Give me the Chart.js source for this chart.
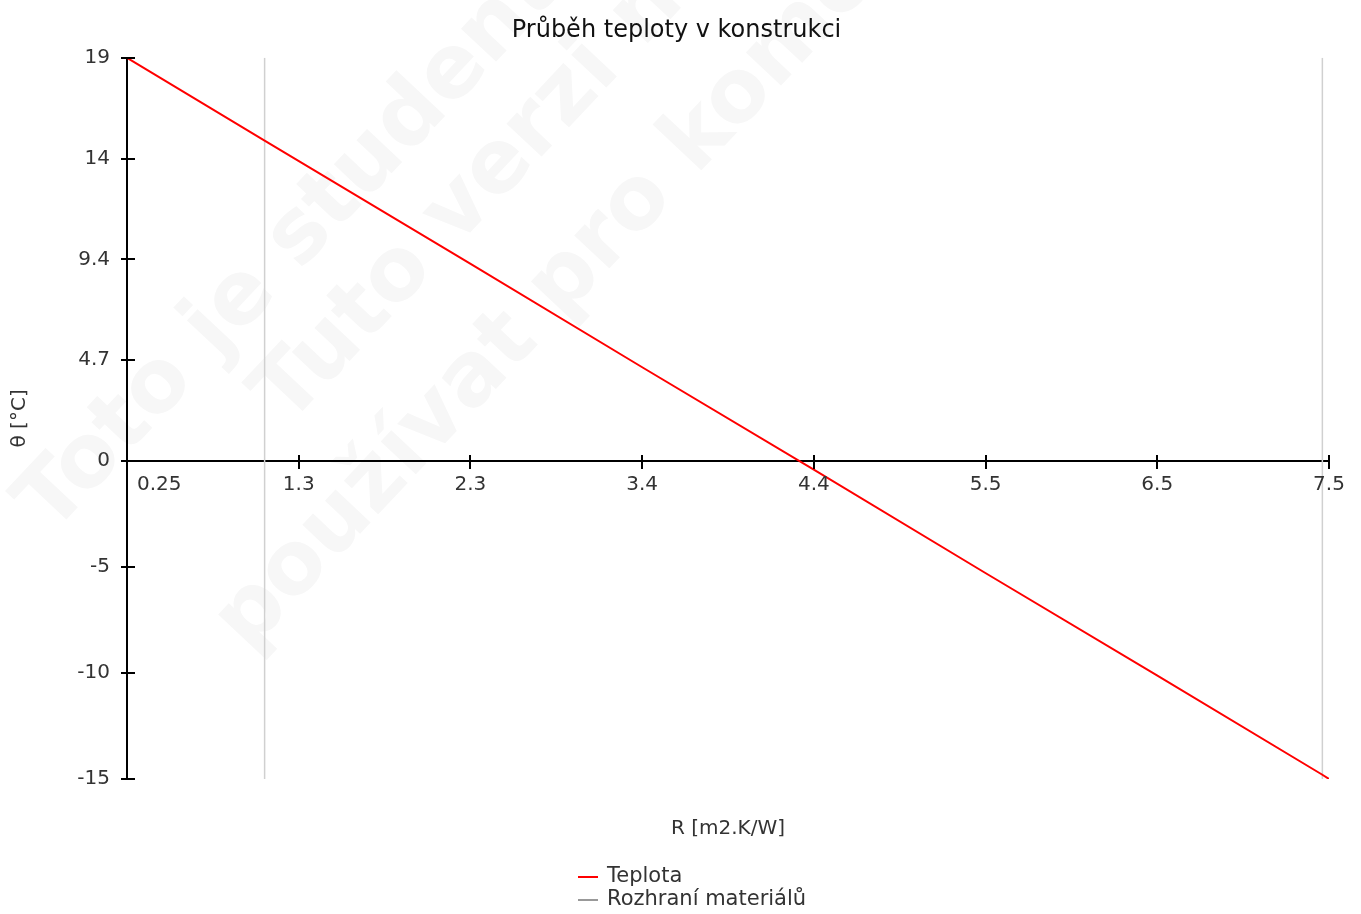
<!DOCTYPE html>
<html>
<head>
<meta charset="utf-8">
<script src="https://cdn.jsdelivr.net/npm/chart.js@4.4.1/dist/chart.umd.min.js"></script>
<style>
  html, body { margin: 0; padding: 0; background: #fff; }
  #wrap { width: 1361px; height: 914px; }
</style>
</head>
<body>
<div id="wrap"><canvas id="chart" width="1361" height="914"></canvas></div>
<script>
// temperature profile (R [m2.K/W] -> theta [°C])
const rValues = [0.25, 1.08, 2.32, 3.36, 4.39, 5.43, 6.46, 7.46, 7.5];
const tempValues = [19, 15.1, 9.3, 4.4, -0.4, -5.3, -10.1, -14.8, -15];

// material interfaces
const interfaceR = [1.08, 7.46];

const yTickValues = [-15, -10, -5, 0, 4.75, 9.5, 14.25, 19];
const yTickLabels = ['-15', '-10', '-5', '0', '4.7', '9.4', '14', '19'];
const xTickValues = [0.25, 1.286, 2.321, 3.357, 4.393, 5.429, 6.464, 7.5];
const xTickLabels = ['0.25', '1.3', '2.3', '3.4', '4.4', '5.5', '6.5', '7.5'];

const watermarkLines = ['Toto je studentská verze programu', 'Tuto verzi nelze', 'používat pro komerční účely'];

const FONT = "'DejaVu Sans', sans-serif";

const tempData = rValues.map((r, i) => ({ x: r, y: tempValues[i] }));
const interfaceData = [];
interfaceR.forEach((r, i) => {
    if (i > 0) interfaceData.push({ x: r, y: null });
    interfaceData.push({ x: r, y: -15 });
    interfaceData.push({ x: r, y: 19 });
});

const watermark = {
    id: 'watermark',
    beforeDraw(chart) {
        const ctx = chart.ctx;
        const spots = [[-355, 381], [-114, 479], [-306, 605]];
        ctx.save();
        ctx.rotate(-46.8 * Math.PI / 180);
        ctx.font = 'bold 88px ' + FONT;
        ctx.fillStyle = '#f7f7f7';
        ctx.textBaseline = 'middle';
        ctx.textAlign = 'left';
        watermarkLines.forEach((t, i) => ctx.fillText(t, spots[i][0], spots[i][1]));
        ctx.restore();
    }
};

// tick marks crossing the axis lines + x labels under the zero line
const crossTicks = {
    id: 'crossTicks',
    afterDraw(chart) {
        const ctx = chart.ctx;
        const xs = chart.scales.x, ys = chart.scales.y;
        const left = chart.chartArea.left;
        const y0 = Math.round(ys.getPixelForValue(0));
        ctx.save();
        ctx.strokeStyle = '#000';
        ctx.lineWidth = 2;
        ctx.beginPath();
        yTickValues.forEach(v => {
            const p = Math.round(ys.getPixelForValue(v));
            ctx.moveTo(left - 6, p);
            ctx.lineTo(left + 8, p);
        });
        xTickValues.slice(1).forEach(v => {
            const p = Math.round(xs.getPixelForValue(v));
            ctx.moveTo(p, y0 - 6);
            ctx.lineTo(p, y0 + 8);
        });
        ctx.stroke();
        ctx.font = '20px ' + FONT;
        ctx.fillStyle = '#333';
        ctx.textBaseline = 'middle';
        xTickValues.forEach((v, i) => {
            const p = xs.getPixelForValue(v);
            ctx.textAlign = i === 0 ? 'left' : 'center';
            ctx.fillText(xTickLabels[i], i === 0 ? p + 10 : p, y0 + 24);
        });
        ctx.restore();
    }
};

// stacked legend below the axis title
const stackedLegend = {
    id: 'stackedLegend',
    afterDraw(chart) {
        const ctx = chart.ctx;
        const left = 578, top = 877, step = 23;
        ctx.save();
        ctx.font = '21px ' + FONT;
        ctx.textBaseline = 'middle';
        ctx.textAlign = 'left';
        chart.data.datasets.forEach((ds, i) => {
            const y = top + i * step;
            ctx.strokeStyle = ds.legendColor || ds.borderColor;
            ctx.lineWidth = 2;
            ctx.beginPath();
            ctx.moveTo(left, y);
            ctx.lineTo(left + 20, y);
            ctx.stroke();
            ctx.fillStyle = '#333';
            ctx.fillText(ds.label, left + 29, y);
        });
        ctx.restore();
    }
};

new Chart(document.getElementById('chart'), {
    type: 'line',
    data: {
        datasets: [{
            label: 'Teplota',
            data: tempData,
            borderColor: '#ff0000',
            borderWidth: 2,
            pointRadius: 0,
            tension: 0
        }, {
            label: 'Rozhraní materiálů',
            data: interfaceData,
            borderColor: '#d0d0d0',
            legendColor: '#999',
            borderWidth: 1.5,
            pointRadius: 0,
            spanGaps: false
        }]
    },
    options: {
        responsive: false,
        animation: false,
        layout: { padding: { left: 4, right: 12, top: 0, bottom: 69 } },
        plugins: {
            legend: { display: false },
            tooltip: { enabled: false },
            title: {
                display: true,
                text: 'Průběh teploty v konstrukci',
                color: '#111',
                font: { family: FONT, size: 24, weight: 'normal' },
                padding: { top: 16, bottom: 13 }
            }
        },
        scales: {
            x: {
                type: 'linear',
                position: { y: 0 },
                min: 0.25,
                max: 7.5,
                afterBuildTicks: (s) => { s.ticks = xTickValues.map(v => ({ value: v })); },
                grid: { display: false, drawTicks: false },
                border: { display: true, color: '#000', width: 2 },
                ticks: { display: false }
            },
            x2: {
                type: 'linear',
                position: 'bottom',
                min: 0.25,
                max: 7.5,
                afterFit: (s) => { s.height = 66; },
                grid: { display: false, drawTicks: false },
                border: { display: false },
                ticks: { display: false },
                title: {
                    display: true,
                    text: 'R [m2.K/W]',
                    color: '#333',
                    font: { family: FONT, size: 20 },
                    padding: { top: 4, bottom: 4 }
                }
            },
            y: {
                type: 'linear',
                position: 'left',
                min: -15,
                max: 19,
                afterBuildTicks: (s) => { s.ticks = yTickValues.map(v => ({ value: v })); },
                afterFit: (s) => { s.width = 123; },
                grid: { display: false, drawTicks: false },
                border: { display: true, color: '#000', width: 2 },
                ticks: {
                    autoSkip: false,
                    padding: 17,
                    color: '#333',
                    font: { family: FONT, size: 20 },
                    callback: (v, i) => yTickLabels[i]
                },
                title: {
                    display: true,
                    text: 'θ [°C]',
                    color: '#333',
                    font: { family: FONT, size: 20 },
                    padding: { top: 4, bottom: 4 }
                }
            },
            yRight: {
                type: 'linear',
                position: 'right',
                min: -15,
                max: 19,
                afterFit: (s) => { s.width = 20; },
                grid: { display: false, drawTicks: false },
                border: { display: false },
                ticks: { display: false }
            }
        }
    },
    plugins: [watermark, crossTicks, stackedLegend]
});
</script>
</body>
</html>
